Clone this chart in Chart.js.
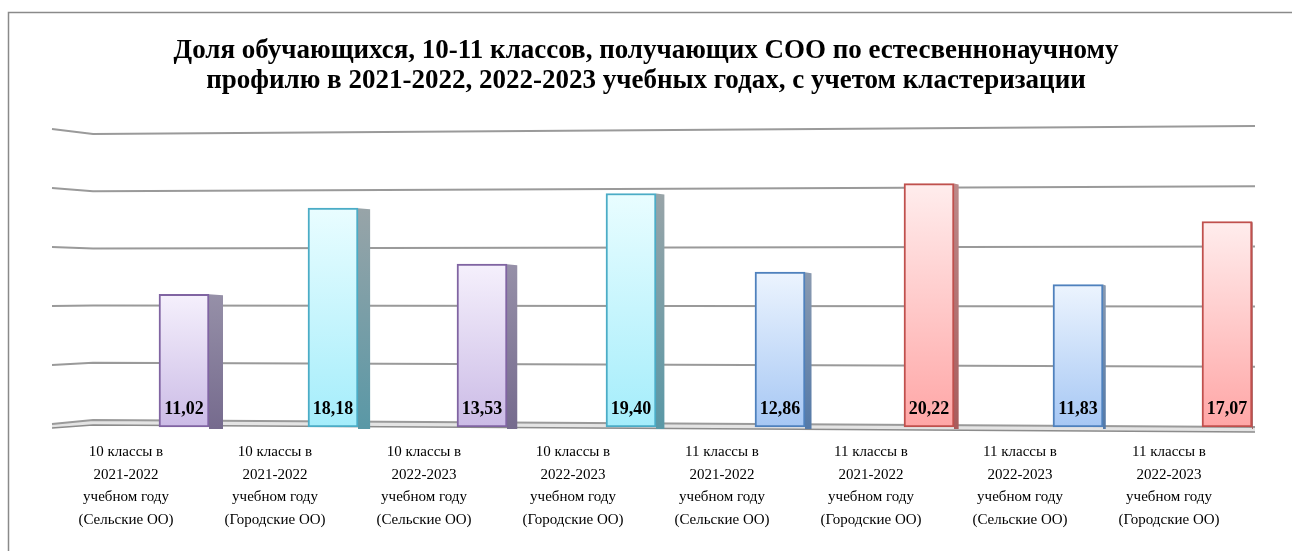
<!DOCTYPE html>
<html>
<head>
<meta charset="utf-8">
<script src="https://cdn.jsdelivr.net/npm/chart.js@4.4.0/dist/chart.umd.min.js"></script>
<style>
  html, body { margin: 0; padding: 0; background: #fff; }
</style>
</head>
<body>
<canvas id="barChart" width="1292" height="551"></canvas>
<script>
    var categories = [
        ["10 классы в", "2021-2022", "учебном году", "(Сельские ОО)"],
        ["10 классы в", "2021-2022", "учебном году", "(Городские ОО)"],
        ["10 классы в", "2022-2023", "учебном году", "(Сельские ОО)"],
        ["10 классы в", "2022-2023", "учебном году", "(Городские ОО)"],
        ["11 классы в", "2021-2022", "учебном году", "(Сельские ОО)"],
        ["11 классы в", "2021-2022", "учебном году", "(Городские ОО)"],
        ["11 классы в", "2022-2023", "учебном году", "(Сельские ОО)"],
        ["11 классы в", "2022-2023", "учебном году", "(Городские ОО)"]
    ];
    var values = [11.02, 18.18, 13.53, 19.40, 12.86, 20.22, 11.83, 17.07];
    var yTicks = [0, 5, 10, 15, 20, 25];
    var titleLines = [
        "Доля обучающихся, 10-11 классов, получающих СОО по естесвеннонаучному",
        "профилю в 2021-2022, 2022-2023 учебных годах, с учетом кластеризации"
    ];

    // colours per bar
    var palette = {
        purple: { top: '#f5f0fc', bottom: '#cbbbe6', border: '#8064a2', sideTop: '#9690a8', sideBottom: '#766b8e' },
        cyan:   { top: '#e9fdff', bottom: '#a4edfb', border: '#4bacc6', sideTop: '#98a4a8', sideBottom: '#5a98a6' },
        blue:   { top: '#ecf4fe', bottom: '#a6c7f4', border: '#4f81bd', sideTop: '#8a9ab0', sideBottom: '#557aa8' },
        red:    { top: '#ffeded', bottom: '#ffa6a6', border: '#c0504d', sideTop: '#bc8a8a', sideBottom: '#a85c5c' }
    };
    var barStyle = ['purple', 'cyan', 'purple', 'cyan', 'blue', 'red', 'blue', 'red'];

    function fmt(v) {
        return v.toFixed(2).replace('.', ',');
    }

    // frame, perspective grid, floor and bar side faces
    var scenePlugin = {
        id: 'scene',
        beforeDraw: function (chart) {
            var ctx = chart.ctx;
            ctx.save();
            ctx.strokeStyle = '#8a8a8a';
            ctx.lineWidth = 1.5;
            ctx.beginPath();
            ctx.moveTo(8.5, 551);
            ctx.lineTo(8.5, 12.5);
            ctx.lineTo(1292, 12.5);
            ctx.stroke();
            ctx.restore();
        },
        beforeDatasetsDraw: function (chart) {
            var ctx = chart.ctx;
            var ys = chart.scales.y;
            ctx.save();
            yTicks.forEach(function (v) {
                var y = ys.getPixelForValue(v);
                var yS = y - 3 + 6 * v / 25;
                var yL = y - 7 + 15 * v / 25;
                var yR = y;
                if (v === 0) {
                    ctx.fillStyle = '#e4e4e4';
                    ctx.beginPath();
                    ctx.moveTo(52, yS); ctx.lineTo(93, yL); ctx.lineTo(1255, yR);
                    ctx.lineTo(1255, yR + 5); ctx.lineTo(93, yL + 5); ctx.lineTo(52, yS + 4);
                    ctx.closePath();
                    ctx.fill();
                    ctx.strokeStyle = '#8c8c8c';
                    ctx.lineWidth = 1.5;
                    ctx.beginPath();
                    ctx.moveTo(52, yS + 4); ctx.lineTo(93, yL + 5); ctx.lineTo(1255, yR + 5);
                    ctx.stroke();
                }
                ctx.strokeStyle = '#9a9a9a';
                ctx.lineWidth = 2;
                ctx.beginPath();
                ctx.moveTo(52, yS);
                ctx.lineTo(93, yL);
                ctx.lineTo(1255, yR);
                ctx.stroke();
            });

            var meta = chart.getDatasetMeta(0);
            meta.data.forEach(function (bar, i) {
                var p = palette[barStyle[i]];
                var right = bar.x + bar.width / 2;
                var w = 14 * (1300 - bar.x) / (1300 - 184);
                var g = ctx.createLinearGradient(0, bar.y, 0, bar.base);
                g.addColorStop(0, p.sideTop);
                g.addColorStop(1, p.sideBottom);
                ctx.fillStyle = g;
                ctx.beginPath();
                ctx.moveTo(right, bar.y);
                ctx.lineTo(right + w, bar.y + 1);
                ctx.lineTo(right + w, bar.base + 2);
                ctx.lineTo(right, bar.base + 2);
                ctx.closePath();
                ctx.fill();
            });
            ctx.restore();
        },
        afterDatasetsDraw: function (chart) {
            var ctx = chart.ctx;
            var meta = chart.getDatasetMeta(0);
            ctx.save();
            ctx.font = 'bold 18px "Liberation Serif", "Times New Roman", serif';
            ctx.fillStyle = '#000';
            ctx.textAlign = 'center';
            ctx.textBaseline = 'middle';
            meta.data.forEach(function (bar, i) {
                ctx.fillText(fmt(values[i]), bar.x, bar.base - 18);
            });
            ctx.restore();
        }
    };

    var ctxB = document.getElementById("barChart").getContext('2d');
    var myBarChart = new Chart(ctxB, {
        type: 'bar',
        data: {
            labels: categories,
            datasets: [{
                label: "Доля обучающихся",
                data: values,
                backgroundColor: function (c) {
                    var p = palette[barStyle[c.dataIndex]];
                    var area = c.chart.chartArea;
                    if (!area || c.type !== 'data') {
                        return p.bottom;
                    }
                    var ys = c.chart.scales.y;
                    var g = c.chart.ctx.createLinearGradient(0, ys.getPixelForValue(c.raw), 0, ys.getPixelForValue(0));
                    g.addColorStop(0, p.top);
                    g.addColorStop(1, p.bottom);
                    return g;
                },
                borderColor: function (c) {
                    return palette[barStyle[c.dataIndex]].border;
                },
                borderWidth: 2,
                borderSkipped: false,
                barThickness: 50,
                clip: false
            }]
        },
        options: {
            responsive: false,
            animation: false,
            layout: { padding: { top: 0, left: 0, right: 0, bottom: 6 } },
            plugins: {
                legend: { display: false },
                tooltip: { enabled: false },
                title: {
                    display: true,
                    text: titleLines,
                    color: '#000',
                    font: { family: '"Liberation Serif", "Times New Roman", serif', size: 27, weight: 'bold', lineHeight: 1.075 },
                    padding: { top: 37, bottom: 31 }
                }
            },
            scales: {
                x: {
                    offset: false,
                    grid: { display: false, drawTicks: false },
                    border: { display: false },
                    ticks: {
                        color: '#000',
                        font: { family: '"Liberation Serif", "Times New Roman", serif', size: 15, lineHeight: 1.5 },
                        padding: 14,
                        labelOffset: -58,
                        maxRotation: 0,
                        autoSkip: false
                    }
                },
                y: {
                    position: 'left',
                    min: 0,
                    max: 25,
                    grid: { display: false },
                    border: { display: false },
                    ticks: { display: false, stepSize: 5 },
                    afterFit: function (s) { s.width = 184; }
                },
                yRight: {
                    type: 'linear',
                    position: 'right',
                    min: 0,
                    max: 1,
                    grid: { display: false },
                    border: { display: false },
                    ticks: { display: false },
                    afterFit: function (s) { s.width = 65; }
                }
            }
        },
        plugins: [scenePlugin]
    });
</script>
</body>
</html>
